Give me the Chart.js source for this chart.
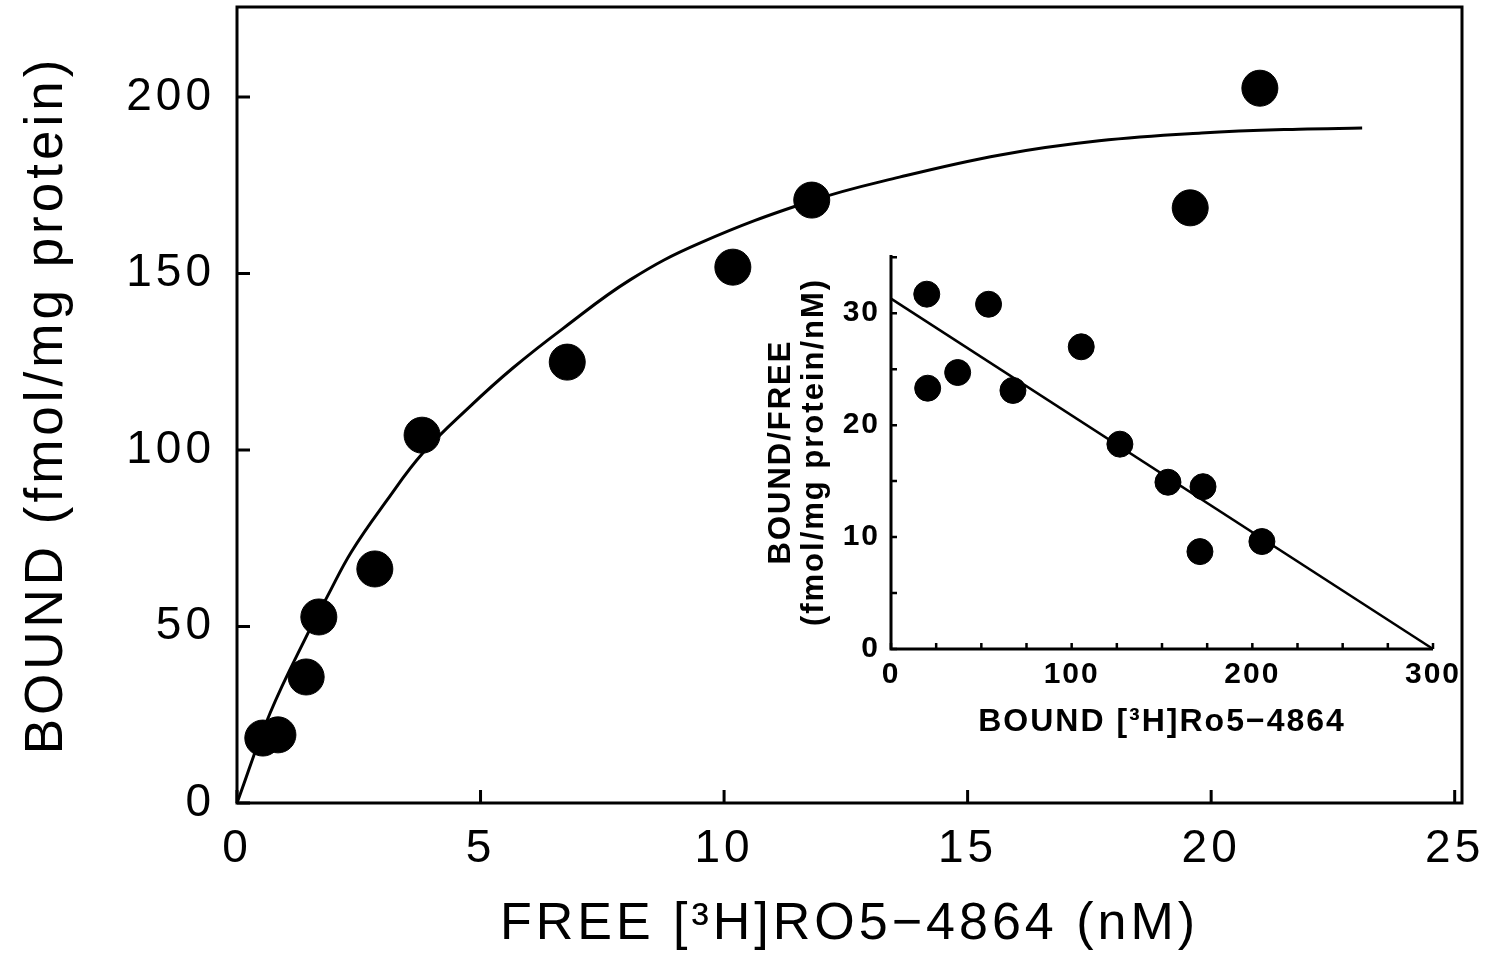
<!DOCTYPE html>
<html>
<head>
<meta charset="utf-8">
<script src="https://cdn.jsdelivr.net/npm/chart.js@4.4.1/dist/chart.umd.min.js"></script>
<style>
body { margin: 0; background: #fff; }
#wrap { position: relative; width: 1497px; height: 955px; }
#main { position: absolute; left: 0; top: 0; }
#inset { position: absolute; left: 740px; top: 240px; }
</style>
</head>
<body>
<div id="wrap">
  <canvas id="main" width="1497" height="955"></canvas>
  <canvas id="inset" width="740" height="520"></canvas>
</div>
<script>
// saturation points (free vs bound)
const freeConc = [0.53, 0.84, 1.42, 1.68, 2.83, 3.8, 6.78, 10.18, 11.8, 19.57, 21.0];
const bound = [18.4, 19.3, 35.7, 52.7, 66.3, 104.2, 124.9, 151.8, 170.8, 168.6, 202.5];
// fitted curve
const fitFree = [0, 0.68, 1.46, 1.85, 2.35, 3.08, 3.82, 4.78, 5.67, 6.69, 8.07, 9.5, 11.8, 13.6, 15.67, 17.7, 19.8, 21.8, 23.1];
const fitBound = [0, 25.5, 48.2, 58.4, 71.2, 85.8, 99.2, 112.3, 123.3, 134.4, 148.2, 158.6, 170.6, 177.3, 183.6, 187.6, 189.8, 190.9, 191.2];
const mainXTicks = [0, 5, 10, 15, 20, 25];
const mainYTicks = [0, 50, 100, 150, 200];

// inset: Scatchard plot
const insetBound = [19.8, 20.3, 36.9, 54.0, 67.5, 105.3, 126.7, 153.3, 172.7, 171, 205.3];
const insetRatio = [31.7, 23.3, 24.7, 30.8, 23.1, 27.0, 18.3, 14.9, 14.5, 8.7, 9.6];
const lineBound = [0, 300];
const lineRatio = [31.3, 0];
const insetXTicks = [0, 100, 200, 300];
const insetYTicks = [0, 10, 20, 30];

const FONT = "'Liberation Sans', Arial, sans-serif";

function toXY(xs, ys) {
  return xs.map((x, i) => ({ x: x, y: ys[i] }));
}

// keep the plot area where the figure has it
function noScalePad(s) {
  s.paddingTop = 0; s.paddingBottom = 0; s.paddingLeft = 0; s.paddingRight = 0;
}

// draws axis lines / box and inward tick marks, plus letter spacing for text
function axesPlugin(cfg) {
  return {
    id: 'axesMarks',
    beforeUpdate(chart) {
      chart.ctx.letterSpacing = cfg.spacing;
    },
    afterDatasetsDraw(chart) {
      const ctx = chart.ctx;
      const a = chart.chartArea;
      const xs = chart.scales.x, ys = chart.scales.y;
      ctx.save();
      ctx.strokeStyle = '#000';
      ctx.lineWidth = cfg.lineWidth;
      ctx.beginPath();
      if (cfg.box) {
        ctx.rect(a.left, a.top, a.right - a.left, a.bottom - a.top);
      } else {
        ctx.moveTo(a.left, a.top);
        ctx.lineTo(a.left, a.bottom);
        ctx.lineTo(xs.getPixelForValue(cfg.xEnd), a.bottom);
      }
      ctx.stroke();
      ctx.lineWidth = cfg.tickWidth;
      ctx.beginPath();
      for (let v = 0; v <= cfg.xEnd + 1e-9; v += cfg.xStep) {
        const px = xs.getPixelForValue(v);
        ctx.moveTo(px, a.bottom);
        ctx.lineTo(px, a.bottom - cfg.tickLen);
      }
      for (let v = 0; v <= cfg.yEnd + 1e-9; v += cfg.yStep) {
        const py = ys.getPixelForValue(v);
        ctx.moveTo(a.left, py);
        ctx.lineTo(a.left + cfg.tickLen, py);
      }
      ctx.stroke();
      ctx.restore();
    }
  };
}

new Chart(document.getElementById('main'), {
  type: 'scatter',
  data: {
    datasets: [
      {
        data: toXY(fitFree, fitBound),
        showLine: true,
        borderColor: '#000',
        borderWidth: 3,
        pointRadius: 0,
        tension: 0.4,
        clip: false
      },
      {
        data: toXY(freeConc, bound),
        backgroundColor: '#000',
        borderColor: '#000',
        pointRadius: 18,
        clip: false
      }
    ]
  },
  options: {
    responsive: false,
    animation: false,
    devicePixelRatio: 1,
    layout: { autoPadding: false, padding: { top: 7, right: 35, left: 0, bottom: 0 } },
    plugins: { legend: { display: false }, tooltip: { enabled: false } },
    scales: {
      x: {
        type: 'linear',
        min: 0,
        max: 25.15,
        afterBuildTicks: s => { s.ticks = mainXTicks.map(v => ({ value: v })); },
        afterFit: s => { s.height = 152; noScalePad(s); },
        grid: { display: false, drawTicks: false },
        border: { display: false },
        ticks: { font: { family: FONT, size: 46 }, color: '#000', padding: 19, maxRotation: 0 },
        title: {
          display: true,
          text: 'FREE [\u00B3H]RO5\u22124864 (nM)',
          color: '#000',
          font: { family: FONT, size: 52, lineHeight: 1 },
          padding: { top: 0, bottom: 4 }
        }
      },
      y: {
        type: 'linear',
        min: 0,
        max: 225.5,
        afterBuildTicks: s => { s.ticks = mainYTicks.map(v => ({ value: v })); },
        afterFit: s => { s.width = 237; noScalePad(s); },
        grid: { display: false, drawTicks: false },
        border: { display: false },
        ticks: { font: { family: FONT, size: 46 }, color: '#000', padding: 22 },
        title: {
          display: true,
          text: 'BOUND (fmol/mg protein)',
          color: '#000',
          font: { family: FONT, size: 53, lineHeight: 1.2 },
          padding: { top: 16, bottom: 0 }
        }
      }
    }
  },
  plugins: [axesPlugin({ box: true, lineWidth: 3, tickWidth: 3, tickLen: 13, xStep: 5, xEnd: 25, yStep: 50, yEnd: 200, spacing: '4px' })]
});

new Chart(document.getElementById('inset'), {
  type: 'scatter',
  data: {
    datasets: [
      {
        data: toXY(lineBound, lineRatio),
        showLine: true,
        borderColor: '#000',
        borderWidth: 2.5,
        pointRadius: 0,
        clip: false
      },
      {
        data: toXY(insetBound, insetRatio),
        backgroundColor: '#000',
        borderColor: '#000',
        pointRadius: 13,
        clip: false
      }
    ]
  },
  options: {
    responsive: false,
    animation: false,
    devicePixelRatio: 1,
    layout: { autoPadding: false, padding: { top: 15, right: 47, left: 0, bottom: 0 } },
    plugins: { legend: { display: false }, tooltip: { enabled: false } },
    scales: {
      x: {
        type: 'linear',
        min: 0,
        max: 300,
        afterBuildTicks: s => { s.ticks = insetXTicks.map(v => ({ value: v })); },
        afterFit: s => { s.height = 111; noScalePad(s); },
        grid: { display: false, drawTicks: false },
        border: { display: false },
        ticks: { font: { family: FONT, size: 30, weight: 'bold' }, color: '#000', padding: 8, maxRotation: 0 },
        title: {
          display: true,
          text: 'BOUND [\u00B3H]Ro5\u22124864',
          color: '#000',
          font: { family: FONT, size: 32, weight: 'bold', lineHeight: 1.2 },
          padding: { top: 0, bottom: 19 }
        }
      },
      y: {
        type: 'linear',
        min: 0,
        max: 35.2,
        afterBuildTicks: s => { s.ticks = insetYTicks.map(v => ({ value: v })); },
        afterFit: s => { s.width = 151; noScalePad(s); },
        grid: { display: false, drawTicks: false },
        border: { display: false },
        ticks: { font: { family: FONT, size: 30, weight: 'bold' }, color: '#000', padding: 11 },
        title: {
          display: true,
          text: ['BOUND/FREE', '(fmol/mg protein/nM)'],
          color: '#000',
          font: { family: FONT, size: 31, weight: 'bold', lineHeight: 1.07 },
          padding: { top: 25, bottom: 0 }
        }
      }
    }
  },
  plugins: [axesPlugin({ box: false, lineWidth: 3, tickWidth: 2.5, tickLen: 6, xStep: 25, xEnd: 300, yStep: 5, yEnd: 35, spacing: '2px' })]
});
</script>
</body>
</html>
